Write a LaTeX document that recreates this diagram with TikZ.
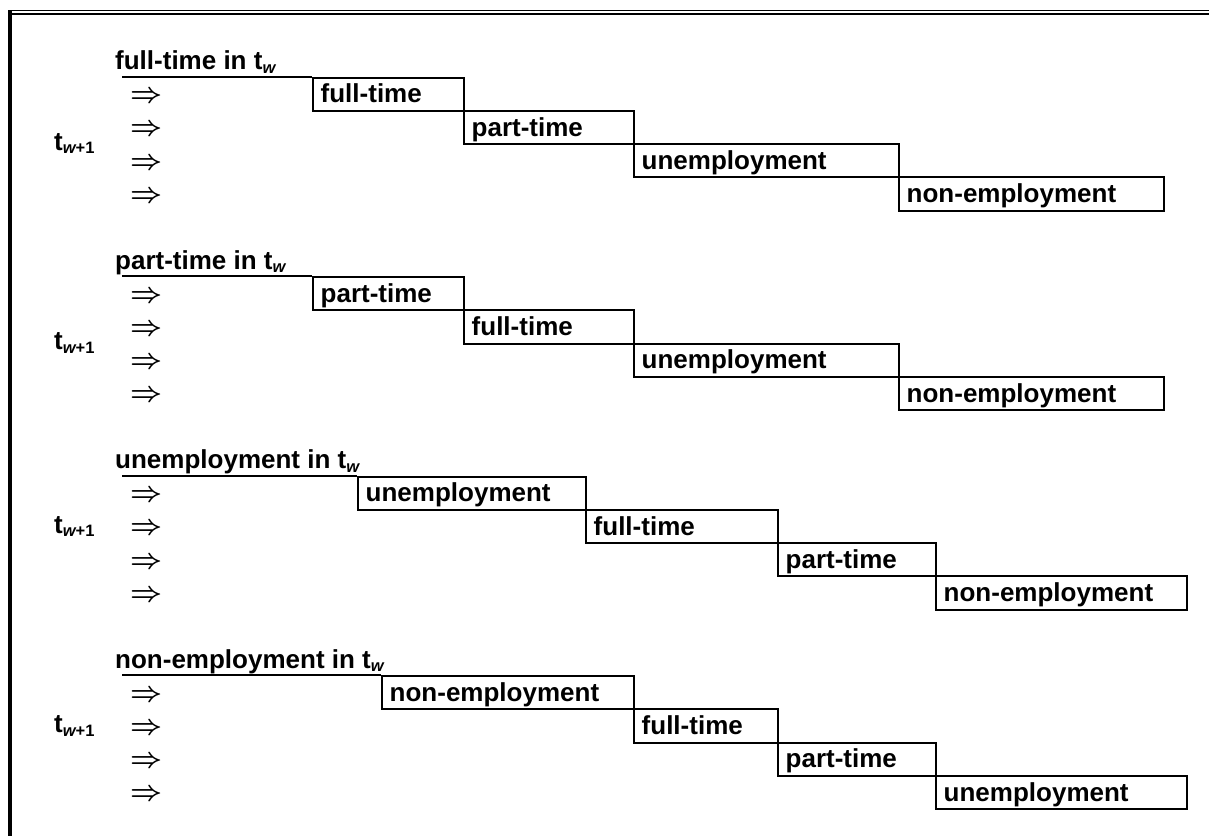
\documentclass[tikz,border=0pt]{standalone}
\usepackage{graphicx}
\usepackage{fontspec}
\setmainfont{Liberation Sans}
\newcommand\tsub[1]{\raisebox{-3.5pt}{\fontsize{16.5}{18}\selectfont #1}}
\newcommand\wi{{\itshape w}}
\newcommand\darr{\scalebox{1.12}{\boldmath$\Rightarrow$}}
\tikzset{
  cell/.style={draw, line width=2pt, anchor=north west, inner sep=0pt, minimum height=33.25pt},
  lab/.style={anchor=base west, inner sep=0pt, font=\bfseries\fontsize{26}{30}\selectfont},
  arr/.style={anchor=base west, inner sep=0pt, font=\fontsize{26}{30}\selectfont},
  hline/.style={line width=2pt},
}
\newcommand\cellbox[5]{%
  \node[cell, minimum width=#4pt] (#1) at (#2,#3) {};
  \node[lab] (#1t) at ([xshift=8.5pt,yshift=9pt]#1.south west) {#5};}
\begin{document}
\begin{tikzpicture}[x=1pt,y=-1pt]
\useasboundingbox (0,0) rectangle (1209,836);
% frame
\fill (8,10) rectangle (12,836);
\draw[line width=1.2pt] (8,10.6) -- (1209,10.6);
\draw[line width=2.3pt] (12,13.9) -- (1209,13.9);

% ---- group 1
\node[lab] (h1) at (115,69.5) {full-time in t\tsub{\wi}};
\coordinate (h1s) at (122,76.5);
\cellbox{a1}{312}{76.5}{151}{full-time}
\cellbox{a2}{463}{109.75}{170}{part-time}
\cellbox{a3}{633}{143}{265}{unemployment}
\cellbox{a4}{898}{176.25}{265}{non-employment}
\draw[hline] (h1s) -- (a1.north west);
\node[arr] (ar1) at (130,102.5) {\darr};
\node[arr] (ar2) at (130,135.75) {\darr};
\node[arr] (ar3) at (130,169) {\darr};
\node[arr] (ar4) at (130,202.25) {\darr};
\node[lab] (t1) at (54,150) {t\tsub{\wi+1}};

% ---- group 2
\node[lab] (h2) at (115,269) {part-time in t\tsub{\wi}};
\coordinate (h2s) at (122,276);
\cellbox{b1}{312}{276}{151}{part-time}
\cellbox{b2}{463}{309.25}{170}{full-time}
\cellbox{b3}{633}{342.5}{265}{unemployment}
\cellbox{b4}{898}{375.75}{265}{non-employment}
\draw[hline] (h2s) -- (b1.north west);
\node[arr] (br1) at (130,302) {\darr};
\node[arr] (br2) at (130,335.25) {\darr};
\node[arr] (br3) at (130,368.5) {\darr};
\node[arr] (br4) at (130,401.75) {\darr};
\node[lab] (t2) at (54,349.5) {t\tsub{\wi+1}};

% ---- group 3
\node[lab] (h3) at (115,468.5) {unemployment in t\tsub{\wi}};
\coordinate (h3s) at (122,475.5);
\cellbox{c1}{357}{475.5}{228}{unemployment}
\cellbox{c2}{585}{508.75}{192}{full-time}
\cellbox{c3}{777}{542}{158}{part-time}
\cellbox{c4}{935}{575.25}{251}{non-employment}
\draw[hline] (h3s) -- (c1.north west);
\node[arr] (cr1) at (130,501.5) {\darr};
\node[arr] (cr2) at (130,534.75) {\darr};
\node[arr] (cr3) at (130,568) {\darr};
\node[arr] (cr4) at (130,601.25) {\darr};
\node[lab] (t3) at (54,533) {t\tsub{\wi+1}};

% ---- group 4
\node[lab] (h4) at (115,668) {non-employment in t\tsub{\wi}};
\coordinate (h4s) at (122,675);
\cellbox{d1}{381}{675}{252}{non-employment}
\cellbox{d2}{633}{708.25}{144}{full-time}
\cellbox{d3}{777}{741.5}{158}{part-time}
\cellbox{d4}{935}{774.75}{251}{unemployment}
\draw[hline] (h4s) -- (d1.north west);
\node[arr] (dr1) at (130,701) {\darr};
\node[arr] (dr2) at (130,734.25) {\darr};
\node[arr] (dr3) at (130,767.5) {\darr};
\node[arr] (dr4) at (130,800.75) {\darr};
\node[lab] (t4) at (54,732.5) {t\tsub{\wi+1}};
\end{tikzpicture}
\end{document}
